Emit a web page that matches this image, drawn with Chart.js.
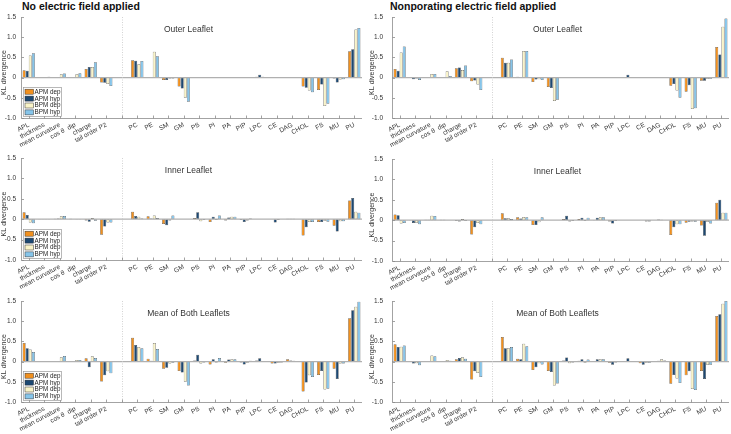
<!DOCTYPE html>
<html lang="en">
<head>
  <meta charset="UTF-8">
  <title>KL divergence</title>
  <script src="https://cdn.jsdelivr.net/npm/chart.js"></script>
  <style>
    body {
      margin: 0;
      background: #fff;
      width: 731px;
      height: 434px;
      overflow: hidden;
      position: relative;
      font-family: 'Liberation Sans', Arial, sans-serif;
    }
    .title {
      position: absolute;
      top: 0;
      font-weight: bold;
      font-size: 10.5px;
      color: #111;
      white-space: nowrap;
    }
    canvas { position: absolute; }
  </style>
</head>
<body>
  <div class="title" style="left:22px">No electric field applied</div>
  <div class="title" style="left:390px">Nonporating electric field applied</div>

  <script>
    // categories, '' is the empty slot with the dotted separator
    const categories = ['APL', 'thickness', 'mean curvature', 'cos θ  dip', 'charge', 'tail order P2', '',
      'PC', 'PE', 'SM', 'GM', 'PS', 'PI', 'PA', 'PIP', 'LPC', 'CE', 'DAG', 'CHOL', 'FS', 'MU', 'PU'];
    const seriesNames = ['APM dep', 'APM hyp', 'BPM dep', 'BPM hyp'];
    const yMin = -1, yMax = 1.5, yStep = 0.5;

    // no electric field - outer leaflet
    const noOuterApmDep = [0.18, 0.00, 0.00, 0.01, 0.21, -0.12, null, 0.43, 0.01, -0.06, -0.22, 0, 0, 0, 0, 0.02, -0.01, 0.01, -0.22, -0.31, -0.02, 0.65];
    const noOuterApmHyp = [0.17, 0.01, 0.01, 0.01, 0.26, -0.13, null, 0.42, 0.01, -0.06, -0.27, 0, 0, 0, 0, 0.07, 0.01, -0.01, -0.25, -0.17, -0.12, 0.70];
    const noOuterBpmDep = [0.55, 0.01, 0.08, 0.08, 0.26, -0.16, null, 0.33, 0.64, -0.02, -0.50, 0, 0, 0, 0, 0.02, -0.01, -0.01, -0.32, -0.70, -0.05, 1.19];
    const noOuterBpmHyp = [0.60, 0.02, 0.10, 0.11, 0.38, -0.21, null, 0.41, 0.53, -0.02, -0.60, 0, 0, 0, 0, 0.01, 0.01, 0.00, -0.36, -0.65, -0.04, 1.23];

    // no electric field - inner leaflet
    const noInnerApmDep = [0.17, -0.01, 0.01, 0.01, -0.03, -0.38, null, 0.18, 0.07, -0.12, 0, 0.03, -0.07, -0.03, -0.02, 0, 0, 0.01, -0.40, -0.07, -0.16, 0.46];
    const noInnerApmHyp = [0.10, -0.01, 0.02, 0.00, -0.06, -0.18, null, 0.08, 0.02, -0.15, 0, 0.17, 0.06, 0.04, -0.07, 0, -0.08, 0.01, -0.20, -0.07, -0.30, 0.52];
    const noInnerBpmDep = [-0.08, -0.01, 0.07, -0.01, 0.03, -0.08, null, 0.06, 0.09, -0.03, 0, -0.05, -0.02, 0.06, -0.03, 0, -0.02, 0.01, -0.07, -0.04, -0.05, 0.18];
    const noInnerBpmHyp = [-0.10, -0.01, 0.08, -0.01, -0.04, -0.08, null, 0.02, 0.03, 0.09, 0, -0.02, 0.09, 0.06, 0.02, 0, 0, 0, -0.07, -0.06, -0.05, 0.16];

    // no electric field - mean of both
    const noMeanApmDep = [0.46, 0, 0, 0.01, 0.08, -0.49, null, 0.59, 0.07, -0.18, -0.23, 0.03, -0.07, -0.03, -0.02, 0.03, -0.05, 0.06, -0.74, -0.33, -0.18, 1.07];
    const noMeanApmHyp = [0.33, 0, 0.01, 0.01, -0.14, -0.34, null, 0.41, 0.02, -0.15, -0.27, 0.17, 0.06, 0.05, -0.07, 0.08, -0.05, 0.03, -0.52, -0.23, -0.43, 1.27];
    const noMeanBpmDep = [0.30, 0, 0.11, 0.04, 0.13, -0.24, null, 0.36, 0.46, -0.05, -0.50, -0.05, -0.02, 0.06, -0.03, 0.01, -0.03, 0.02, -0.34, -0.69, -0.05, 1.36];
    const noMeanBpmHyp = [0.24, 0, 0.14, 0.04, 0.09, -0.29, null, 0.33, 0.31, -0.03, -0.59, -0.02, 0.09, 0.06, 0.02, 0.01, -0.02, 0.01, -0.38, -0.67, -0.05, 1.48];

    // nonporating field - outer leaflet
    const efOuterApmDep = [0.21, -0.01, 0, 0.01, 0.23, -0.09, null, 0.49, 0.02, -0.11, -0.23, 0, 0, 0, 0, 0.01, -0.01, 0, -0.20, -0.35, -0.08, 0.76];
    const efOuterApmHyp = [0.17, -0.04, 0, 0.01, 0.25, -0.07, null, 0.37, -0.01, -0.05, -0.26, 0, 0, 0, 0, 0.07, 0.01, 0, -0.16, -0.19, -0.08, 0.57];
    const efOuterBpmDep = [0.62, -0.02, 0.09, 0.16, 0.19, -0.17, null, 0.37, 0.66, -0.04, -0.58, 0, 0, 0, 0, 0.01, -0.01, 0.01, -0.32, -0.78, -0.03, 1.26];
    const efOuterBpmHyp = [0.77, -0.06, 0.09, 0.04, 0.30, -0.31, null, 0.45, 0.66, -0.06, -0.55, 0, 0, 0, 0, 0.01, 0.01, 0, -0.50, -0.76, -0.03, 1.46];

    // nonporating field - inner leaflet
    const efInnerApmDep = [0.14, -0.01, 0.01, 0.01, -0.02, -0.35, null, 0.17, 0.07, -0.12, 0, 0.03, 0.03, -0.01, -0.03, 0, 0, 0, -0.36, -0.06, -0.13, 0.43];
    const efInnerApmHyp = [0.12, -0.07, 0.01, 0.01, -0.03, -0.17, null, 0.05, 0.04, -0.12, 0, 0.11, 0.06, 0.06, -0.08, 0, 0, 0.02, -0.17, -0.04, -0.38, 0.50];
    const efInnerBpmDep = [-0.08, -0.06, 0.11, 0, 0.03, -0.07, null, 0.05, 0.08, -0.05, 0, -0.03, -0.02, 0.07, -0.02, 0, -0.03, 0.01, -0.10, -0.03, -0.04, 0.18];
    const efInnerBpmHyp = [-0.07, -0.10, 0.10, 0, -0.02, -0.10, null, 0.03, 0.07, 0.07, 0, -0.02, 0.06, 0.07, -0.01, 0, -0.03, 0, -0.10, -0.04, -0.08, 0.18];

    // nonporating field - mean of both
    const efMeanApmDep = [0.43, -0.01, 0.01, 0.01, 0.06, -0.44, null, 0.61, 0.07, -0.21, -0.23, 0.03, 0.02, -0.01, -0.03, 0.01, -0.04, 0.01, -0.55, -0.34, -0.23, 1.13];
    const efMeanApmHyp = [0.36, -0.05, 0.01, 0.01, 0.09, -0.24, null, 0.33, 0.06, -0.14, -0.26, 0.10, 0.06, 0.06, -0.08, 0.08, -0.08, 0.02, -0.33, -0.24, -0.43, 1.17];
    const efMeanBpmDep = [0.37, -0.04, 0.15, 0.04, 0.11, -0.28, null, 0.33, 0.44, -0.04, -0.59, -0.04, -0.03, 0.06, -0.02, 0.01, -0.03, 0.06, -0.42, -0.68, -0.08, 1.43];
    const efMeanBpmHyp = [0.40, -0.09, 0.13, 0.02, 0.07, -0.38, null, 0.36, 0.38, -0.07, -0.54, -0.02, 0.05, 0.06, -0.01, 0.01, -0.03, 0.03, -0.53, -0.70, -0.08, 1.50];

    const colors = ['#F0901F', '#1C4872', '#FAF4C8', '#86C5EA'];
    const font = "'Liberation Sans', Arial, sans-serif";
    Chart.defaults.font.family = font;

    // column geometry: plot area left/right in page pixels
    const cols = [
      { left: 0, width: 370, axis: 21, right: 362, tickPad: 5, titleGap: 17 },
      { left: 366, width: 365, axis: 392, right: 729, tickPad: 9, titleGap: 20 }
    ];

    const panels = [
      { col: 0, top: 17, bottom: 118, sub: 'Outer Leaflet', legend: true, sets: [noOuterApmDep, noOuterApmHyp, noOuterBpmDep, noOuterBpmHyp] },
      { col: 0, top: 158, bottom: 260, sub: 'Inner Leaflet', legend: true, sets: [noInnerApmDep, noInnerApmHyp, noInnerBpmDep, noInnerBpmHyp] },
      { col: 0, top: 301, bottom: 402, sub: 'Mean of Both Leaflets', legend: true, sets: [noMeanApmDep, noMeanApmHyp, noMeanBpmDep, noMeanBpmHyp] },
      { col: 1, top: 17, bottom: 118, sub: 'Outer Leaflet', legend: false, sets: [efOuterApmDep, efOuterApmHyp, efOuterBpmDep, efOuterBpmHyp] },
      { col: 1, top: 159, bottom: 261, sub: 'Inner Leaflet', legend: false, sets: [efInnerApmDep, efInnerApmHyp, efInnerBpmDep, efInnerBpmHyp] },
      { col: 1, top: 301, bottom: 402, sub: 'Mean of Both Leaflets', legend: false, sets: [efMeanApmDep, efMeanApmHyp, efMeanBpmDep, efMeanBpmHyp] }
    ];

    function line(ctx, x1, y1, x2, y2) {
      ctx.beginPath();
      ctx.moveTo(x1, y1);
      ctx.lineTo(x2, y2);
      ctx.stroke();
    }

    const decor = {
      id: 'decor',
      afterDatasetsDraw(chart, args, opts) {
        const { ctx, chartArea: a, scales: { x, y } } = chart;
        ctx.save();

        // zero baseline
        const y0 = y.getPixelForValue(0);
        ctx.strokeStyle = '#b0b0b0';
        ctx.lineWidth = 1.2;
        line(ctx, a.left, y0, a.right, y0);

        // dotted separator on the empty slot
        const xs = Math.round(x.getPixelForValue(6)) + 0.5;
        ctx.strokeStyle = '#c8c8c8';
        ctx.lineWidth = 0.8;
        ctx.setLineDash([1, 1.5]);
        line(ctx, xs, a.top, xs, a.bottom);
        ctx.setLineDash([]);

        // axes and inward ticks
        ctx.strokeStyle = '#8c8c8c';
        ctx.lineWidth = 0.8;
        const L = Math.round(a.left) + 0.5, B = Math.round(a.bottom) + 0.5;
        line(ctx, L, a.top, L, B);
        line(ctx, L, B, a.right, B);
        for (let v = yMin; v <= yMax + 1e-9; v += yStep) {
          const py = Math.round(y.getPixelForValue(v)) + 0.5;
          line(ctx, L, py, L + 2.5, py);
        }
        for (let i = 0; i < categories.length; i++) {
          const px = Math.round(x.getPixelForValue(i)) + 0.5;
          line(ctx, px, B, px, B - 3);
        }

        // panel subtitle
        ctx.fillStyle = '#333';
        ctx.font = '8.5px ' + font;
        ctx.textAlign = 'center';
        ctx.textBaseline = 'middle';
        ctx.fillText(opts.sub, (a.left + a.right) / 2 - 3, a.top + 12.5);

        // y title
        ctx.save();
        ctx.translate(a.left - opts.titleGap, (a.top + a.bottom) / 2 + 5);
        ctx.rotate(-Math.PI / 2);
        ctx.font = '7px ' + font;
        ctx.fillStyle = '#333';
        ctx.fillText('KL divergence', 0, 0);
        ctx.restore();

        // legend box
        if (opts.legend) {
          const lx = a.left + 2, lh = 29, lw = 38, ly = a.bottom - lh - 2;
          ctx.fillStyle = '#fff';
          ctx.fillRect(lx, ly, lw, lh);
          ctx.strokeStyle = '#9a9a9a';
          ctx.lineWidth = 0.7;
          ctx.strokeRect(lx + 0.5, ly + 0.5, lw, lh);
          ctx.font = '6.3px ' + font;
          ctx.textAlign = 'left';
          seriesNames.forEach((name, i) => {
            const ey = ly + 2.2 + i * 6.9;
            ctx.fillStyle = colors[i];
            ctx.fillRect(lx + 2, ey, 8.5, 5);
            ctx.strokeStyle = '#333';
            ctx.lineWidth = 0.5;
            ctx.strokeRect(lx + 2, ey, 8.5, 5);
            ctx.fillStyle = '#222';
            ctx.fillText(name, lx + 11.5, ey + 2.7);
          });
        }
        ctx.restore();
      }
    };

    panels.forEach((p, k) => {
      const c = cols[p.col];
      const padTop = 14, xAxisH = 45;
      const H = (p.bottom - p.top) + padTop + xAxisH;
      const cv = document.createElement('canvas');
      cv.width = c.width;
      cv.height = H;
      cv.style.left = c.left + 'px';
      cv.style.top = (p.top - padTop) + 'px';
      document.body.appendChild(cv);

      new Chart(cv, {
        type: 'bar',
        data: {
          labels: categories,
          datasets: p.sets.map((d, i) => ({
            label: seriesNames[i],
            data: d,
            backgroundColor: colors[i],
            borderColor: '#2a2a2a',
            borderWidth: 0.5,
            borderSkipped: false,
            categoryPercentage: 0.8,
            barPercentage: 0.96
          }))
        },
        options: {
          responsive: false,
          animation: false,
          events: [],
          layout: { padding: { top: padTop, left: 0, right: c.left + c.width - c.right, bottom: 0 } },
          plugins: {
            legend: { display: false },
            tooltip: { enabled: false },
            decor: { sub: p.sub, legend: p.legend, titleGap: c.titleGap }
          },
          scales: {
            x: {
              grid: { display: false, drawTicks: false },
              border: { display: false },
              ticks: { autoSkip: false, maxRotation: 28, minRotation: 28, padding: 3, color: '#333', font: { size: 6.5 } },
              afterFit: s => { s.height = xAxisH; }
            },
            y: {
              min: yMin,
              max: yMax,
              grid: { display: false, drawTicks: false },
              border: { display: false },
              ticks: { stepSize: yStep, padding: c.tickPad, color: '#333', font: { size: 6.5 } },
              afterFit: s => { s.width = c.axis - c.left; }
            }
          }
        },
        plugins: [decor]
      });
    });
  </script>
</body>
</html>
